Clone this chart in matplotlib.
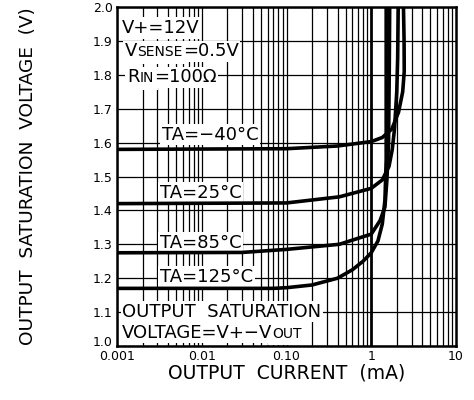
import numpy as np
import matplotlib.pyplot as plt
import matplotlib.transforms as mtransforms

# curves: output current (mA) vs output saturation voltage (V)
i_m40 = [0.001, 0.1, 0.4, 1.0, 1.35, 1.75, 2.1, 2.35, 2.45, 2.44, 2.4]
v_m40 = [1.58, 1.582, 1.59, 1.603, 1.615, 1.64, 1.69, 1.75, 1.81, 1.9, 2.0]

i_25 = [0.001, 0.1, 0.42, 1.0, 1.35, 1.62, 1.77, 1.88, 2.0, 2.05, 2.08]
v_25 = [1.42, 1.422, 1.44, 1.465, 1.49, 1.53, 1.58, 1.64, 1.75, 1.85, 2.0]

i_85 = [0.001, 0.03, 0.1, 0.42, 1.0, 1.27, 1.45, 1.53, 1.6, 1.63, 1.65]
v_85 = [1.275, 1.276, 1.285, 1.30, 1.33, 1.37, 1.41, 1.49, 1.6, 1.8, 2.0]

i_125 = [0.001, 0.07, 0.1, 0.2, 0.4, 0.6, 0.8, 1.0, 1.2, 1.35, 1.45, 1.5, 1.5]
v_125 = [1.17, 1.17, 1.172, 1.18, 1.20, 1.225, 1.25, 1.275, 1.31, 1.36, 1.43, 1.55, 2.0]

curves = [(i_m40, v_m40), (i_25, v_25), (i_85, v_85), (i_125, v_125)]

xticks = [0.001, 0.01, 0.1, 1, 10]
xticklabels = ['0.001', '0.01', '0.10', '1', '10']
yticks = np.round(np.arange(1.0, 2.01, 0.1), 1)

fig = plt.figure(figsize=(4.74, 4.0), dpi=100)
ax = fig.add_axes([117/474, 54/400, 339/474, 339/400])
ax.set_xscale('log')
ax.set_xlim(0.001, 10)
ax.set_ylim(1.0, 2.0)

# grid drawn by hand so the 1 mA line can be heavier
for dec in [0.001, 0.01, 0.1, 1]:
    for k in range(1, 10):
        xv = dec * k
        lw = 2.0 if xv == 1 else 0.9
        ax.axvline(xv, color='black', lw=lw, zorder=1)
for yv in yticks:
    ax.axhline(yv, color='black', lw=0.9, zorder=1)

for xs, ys in curves:
    ax.plot(xs, ys, color='black', lw=2.6, solid_capstyle='butt', zorder=5)

ax.set_xticks(xticks)
ax.set_xticklabels(xticklabels)
ax.set_xticks([], minor=True)
ax.set_yticks(yticks)
ax.set_yticklabels(['%.1f' % v for v in yticks])
ax.tick_params(length=0, labelsize=9)
ax.tick_params(axis='x', pad=3)
ax.tick_params(axis='y', pad=3)
# lift the 1.0 label so it clears 0.001
ylabs = ax.get_yticklabels()
ylabs[0].set_transform(ylabs[0].get_transform() +
                       mtransforms.ScaledTranslation(0, 5/100, fig.dpi_scale_trans))
for s in ax.spines.values():
    s.set_linewidth(1.8)

ax.set_xlabel('OUTPUT  CURRENT  (mA)', fontsize=13.5, labelpad=0)
ax.set_ylabel('OUTPUT  SATURATION  VOLTAGE  (V)', fontsize=13.3, labelpad=40)


def piece(txt, fs, xy, coords, pad):
    # white box underneath, text on top, so boxes never hide letters
    ax.annotate(txt, xy=xy, xycoords=coords, fontsize=fs, va='baseline',
                ha='left', color='none', zorder=2.5,
                bbox=dict(facecolor='white', edgecolor='none', pad=pad))
    return ax.annotate(txt, xy=xy, xycoords=coords, fontsize=fs,
                       va='baseline', ha='left', zorder=3)


def label(x, y, parts):
    # parts: list of (text, fontsize); small caps done with smaller pieces
    t = piece(parts[0][0], parts[0][1], (x, y), 'data', 1.2)
    for txt, fs in parts[1:]:
        pad = 1.2 if fs == big else 3.2
        t = piece(txt, fs, (1, y), (t, 'data'), pad)


big, small = 13, 10
label(0.00115, 1.923, [('V+=12V', big)])
label(0.00124, 1.855, [('V', big), ('SENSE', small), ('=0.5V', big)])
label(0.00131, 1.778, [('R', big), ('IN', small), ('=100Ω', big)])
label(0.0034, 1.609, [('TA=−40°C', big)])
label(0.0032, 1.438, [('TA=25°C', big)])
label(0.0032, 1.290, [('TA=85°C', big)])
label(0.0032, 1.189, [('TA=125°C', big)])
label(0.00115, 1.086, [('OUTPUT  SATURATION', big)])
label(0.00115, 1.024, [('VOLTAGE=V+−V', big), ('OUT', small)])

fig.savefig('out.png', dpi=100)
